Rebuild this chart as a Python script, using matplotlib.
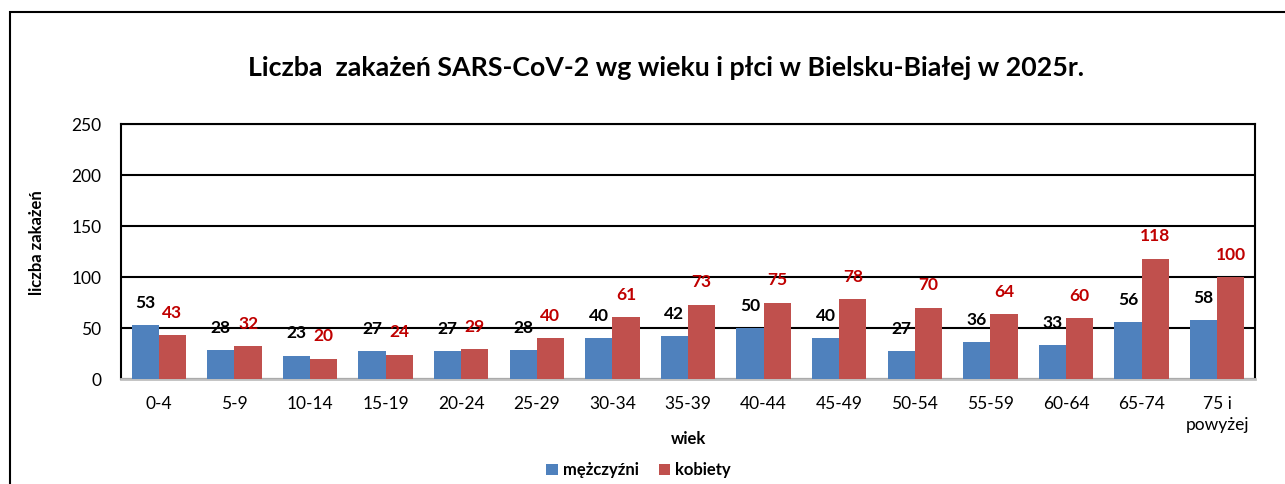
import numpy as np
import matplotlib.pyplot as plt
from matplotlib.patches import Rectangle

plt.rcParams['font.family'] = ['Lato', 'DejaVu Sans']

# Data
age_groups = ['0-4', '5-9', '10-14', '15-19', '20-24', '25-29', '30-34',
              '35-39', '40-44', '45-49', '50-54', '55-59', '60-64', '65-74',
              '75 i\npowyżej']
men = [53, 28, 23, 27, 27, 28, 40, 42, 50, 40, 27, 36, 33, 56, 58]
women = [43, 32, 20, 24, 29, 40, 61, 73, 75, 78, 70, 64, 60, 118, 100]
y_ticks = [0, 50, 100, 150, 200, 250]

BLUE = '#4F81BD'
RED = '#C0504D'
LABEL_RED = '#C00000'

fig = plt.figure(figsize=(12.85, 4.84), dpi=100)
ax = fig.add_axes([0.0942, 0.2169, 0.8825, 0.5269])

x = np.arange(len(age_groups))
w = 0.36
b1 = ax.bar(x - w / 2, men, w, color=BLUE, label='mężczyźni', zorder=3)
b2 = ax.bar(x + w / 2, women, w, color=RED, label='kobiety', zorder=3)

for rect, v in zip(b1, men):
    ax.annotate(str(v), (rect.get_x() + rect.get_width() / 2, v),
                xytext=(0, 16), textcoords='offset points', ha='center',
                va='center', fontsize=12.5, fontweight='bold', color='black',
                zorder=4)
for rect, v in zip(b2, women):
    ax.annotate(str(v), (rect.get_x() + rect.get_width() / 2, v),
                xytext=(0, 16), textcoords='offset points', ha='center',
                va='center', fontsize=12.5, fontweight='bold', color=LABEL_RED,
                zorder=4)

ax.set_xlim(-0.5, len(age_groups) - 0.5)
ax.set_ylim(0, 250)
ax.set_yticks(y_ticks)
ax.set_xticks(x)
ax.set_xticklabels(age_groups, fontsize=12.5, linespacing=1.4)
ax.tick_params(axis='y', labelsize=12.5, length=0, pad=14)
ax.tick_params(axis='x', length=0, pad=12)
ax.yaxis.grid(True, color='black', lw=1.5, zorder=0)

for s in ['left', 'top', 'right']:
    ax.spines[s].set_color('black')
    ax.spines[s].set_linewidth(1.5)
ax.spines['bottom'].set_color('#BFBFBF')
ax.spines['bottom'].set_linewidth(2)

ax.set_ylabel('liczba zakażeń', fontsize=12, fontweight='bold')
ax.yaxis.set_label_coords(-0.067, 0.535)
ax.set_xlabel('wiek', fontsize=12, fontweight='bold')
ax.xaxis.set_label_coords(0.5, -0.205)

fig.text(0.518, 0.86, 'Liczba  zakażeń SARS-CoV-2 wg wieku i płci w Bielsku-Białej w 2025r.',
         ha='center', va='center', fontsize=19.3, fontweight='bold')

leg = fig.legend(handles=[b1, b2], loc='center', bbox_to_anchor=(0.497, 0.028),
                 ncol=2, frameon=False, handlelength=0.7, handleheight=0.7,
                 handletextpad=0.3, columnspacing=1.2,
                 prop={'size': 12, 'weight': 'bold'})

# outer chart frame
fig.patches.append(Rectangle((0.0075, -0.2), 1.2, 0.2 + 0.975, fill=False,
                             edgecolor='black', lw=1.5,
                             transform=fig.transFigure, figure=fig))

fig.savefig('out.png', dpi=100)
